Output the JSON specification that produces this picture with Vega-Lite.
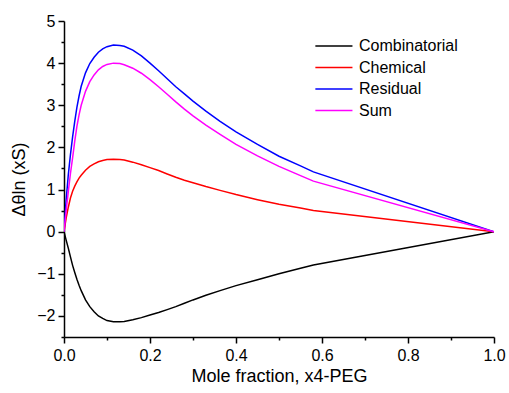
{
  "$schema": "https://vega.github.io/schema/vega-lite/v6.json",
  "width": 430,
  "height": 316,
  "autosize": {"type": "none"},
  "padding": {"left": 64, "top": 21, "right": 15, "bottom": 56},
  "background": "white",
  "config": {
    "view": {"stroke": null},
    "font": "Liberation Sans",
    "axis": {
      "domainColor": "black",
      "domainWidth": 1.5,
      "tickColor": "black",
      "tickWidth": 1.5,
      "grid": false,
      "labelColor": "black",
      "titleColor": "black",
      "labelFont": "Liberation Sans",
      "titleFont": "Liberation Sans",
      "labelFontSize": 16,
      "titleFontSize": 18,
      "titleFontWeight": "normal"
    },
    "legend": {
      "labelFont": "Liberation Sans",
      "labelFontSize": 16,
      "labelColor": "black"
    }
  },
  "data": {
    "values": [
      {"x": 0, "Combinatorial": 0, "Chemical": 0, "Residual": 0, "Sum": 0},
      {"x": 0.005, "Combinatorial": -0.2, "Chemical": 0.32, "Residual": 0.75, "Sum": 0.5},
      {"x": 0.01, "Combinatorial": -0.39, "Chemical": 0.58, "Residual": 1.35, "Sum": 0.95},
      {"x": 0.015, "Combinatorial": -0.6, "Chemical": 0.8, "Residual": 1.83, "Sum": 1.38},
      {"x": 0.02, "Combinatorial": -0.8, "Chemical": 0.96, "Residual": 2.25, "Sum": 1.75},
      {"x": 0.025, "Combinatorial": -0.97, "Chemical": 1.08, "Residual": 2.62, "Sum": 2.15},
      {"x": 0.03, "Combinatorial": -1.13, "Chemical": 1.18, "Residual": 2.95, "Sum": 2.5},
      {"x": 0.035, "Combinatorial": -1.27, "Chemical": 1.27, "Residual": 3.22, "Sum": 2.77},
      {"x": 0.04, "Combinatorial": -1.4, "Chemical": 1.34, "Residual": 3.45, "Sum": 3.0},
      {"x": 0.05, "Combinatorial": -1.62, "Chemical": 1.46, "Residual": 3.77, "Sum": 3.33},
      {"x": 0.06, "Combinatorial": -1.78, "Chemical": 1.55, "Residual": 3.99, "Sum": 3.56},
      {"x": 0.07, "Combinatorial": -1.9, "Chemical": 1.61, "Residual": 4.14, "Sum": 3.72},
      {"x": 0.08, "Combinatorial": -2.0, "Chemical": 1.66, "Residual": 4.26, "Sum": 3.84},
      {"x": 0.09, "Combinatorial": -2.06, "Chemical": 1.69, "Residual": 4.34, "Sum": 3.92},
      {"x": 0.1, "Combinatorial": -2.11, "Chemical": 1.71, "Residual": 4.39, "Sum": 3.97},
      {"x": 0.115, "Combinatorial": -2.14, "Chemical": 1.72, "Residual": 4.43, "Sum": 4.0},
      {"x": 0.13, "Combinatorial": -2.14, "Chemical": 1.71, "Residual": 4.42, "Sum": 3.99},
      {"x": 0.14, "Combinatorial": -2.13, "Chemical": 1.7, "Residual": 4.4, "Sum": 3.96},
      {"x": 0.16, "Combinatorial": -2.09, "Chemical": 1.65, "Residual": 4.31, "Sum": 3.88},
      {"x": 0.18, "Combinatorial": -2.04, "Chemical": 1.59, "Residual": 4.17, "Sum": 3.76},
      {"x": 0.2, "Combinatorial": -1.98, "Chemical": 1.52, "Residual": 4.0, "Sum": 3.61},
      {"x": 0.22, "Combinatorial": -1.92, "Chemical": 1.45, "Residual": 3.82, "Sum": 3.44},
      {"x": 0.24, "Combinatorial": -1.85, "Chemical": 1.37, "Residual": 3.63, "Sum": 3.26},
      {"x": 0.26, "Combinatorial": -1.78, "Chemical": 1.29, "Residual": 3.44, "Sum": 3.08},
      {"x": 0.28, "Combinatorial": -1.7, "Chemical": 1.22, "Residual": 3.27, "Sum": 2.91},
      {"x": 0.3, "Combinatorial": -1.62, "Chemical": 1.16, "Residual": 3.1, "Sum": 2.75},
      {"x": 0.33, "Combinatorial": -1.51, "Chemical": 1.07, "Residual": 2.86, "Sum": 2.53},
      {"x": 0.363, "Combinatorial": -1.4, "Chemical": 0.98, "Residual": 2.62, "Sum": 2.31},
      {"x": 0.4, "Combinatorial": -1.28, "Chemical": 0.88, "Residual": 2.37, "Sum": 2.07},
      {"x": 0.45, "Combinatorial": -1.14, "Chemical": 0.76, "Residual": 2.07, "Sum": 1.8},
      {"x": 0.5, "Combinatorial": -1.0, "Chemical": 0.65, "Residual": 1.79, "Sum": 1.55},
      {"x": 0.55, "Combinatorial": -0.87, "Chemical": 0.56, "Residual": 1.56, "Sum": 1.33},
      {"x": 0.58, "Combinatorial": -0.79, "Chemical": 0.5, "Residual": 1.42, "Sum": 1.2},
      {"x": 1.0, "Combinatorial": 0, "Chemical": 0, "Residual": 0, "Sum": 0}
    ]
  },
  "transform": [
    {"fold": ["Combinatorial", "Chemical", "Residual", "Sum"], "as": ["series", "value"]}
  ],
  "mark": {"type": "line", "interpolate": "linear", "strokeWidth": 1.5, "clip": true},
  "encoding": {
    "x": {
      "field": "x",
      "type": "quantitative",
      "scale": {"domain": [0, 1.0], "nice": false, "zero": false},
      "axis": {
        "title": "Mole fraction, x4-PEG",
        "values": [0, 0.1, 0.2, 0.3, 0.4, 0.5, 0.6, 0.7, 0.8, 0.9, 1.0],
        "format": ".1f",
        "labelExpr": "(round(datum.value * 10) % 2 == 0) ? datum.label : ''",
        "tickSize": {"condition": {"test": "round(datum.value * 10) % 2 != 0", "value": 3}, "value": 6},
        "labelPadding": 4,
        "titlePadding": 4,
        "labelFlush": false
      }
    },
    "y": {
      "field": "value",
      "type": "quantitative",
      "scale": {"domain": [-2.5, 5], "nice": false, "zero": false},
      "axis": {
        "title": "Δθln (xS)",
        "values": [-2.5, -2, -1.5, -1, -0.5, 0, 0.5, 1, 1.5, 2, 2.5, 3, 3.5, 4, 4.5, 5],
        "format": "~g",
        "labelExpr": "(datum.value % 1 == 0) ? datum.label : ''",
        "tickSize": {"condition": {"test": "datum.value % 1 != 0", "value": 3}, "value": 6},
        "labelPadding": 3,
        "titlePadding": 8,
        "labelFlush": false
      }
    },
    "color": {
      "field": "series",
      "type": "nominal",
      "sort": ["Combinatorial", "Chemical", "Residual", "Sum"],
      "scale": {
        "domain": ["Combinatorial", "Chemical", "Residual", "Sum"],
        "range": ["#000000", "#FF0000", "#0000FF", "#FF00FF"]
      },
      "legend": {
        "title": null,
        "orient": "none",
        "legendX": 248,
        "legendY": 17,
        "symbolType": "M-1,0H7",
        "symbolSize": 86,
        "symbolStrokeWidth": 1.5,
        "rowPadding": 5.5,
        "labelOffset": 31
      }
    }
  }
}
